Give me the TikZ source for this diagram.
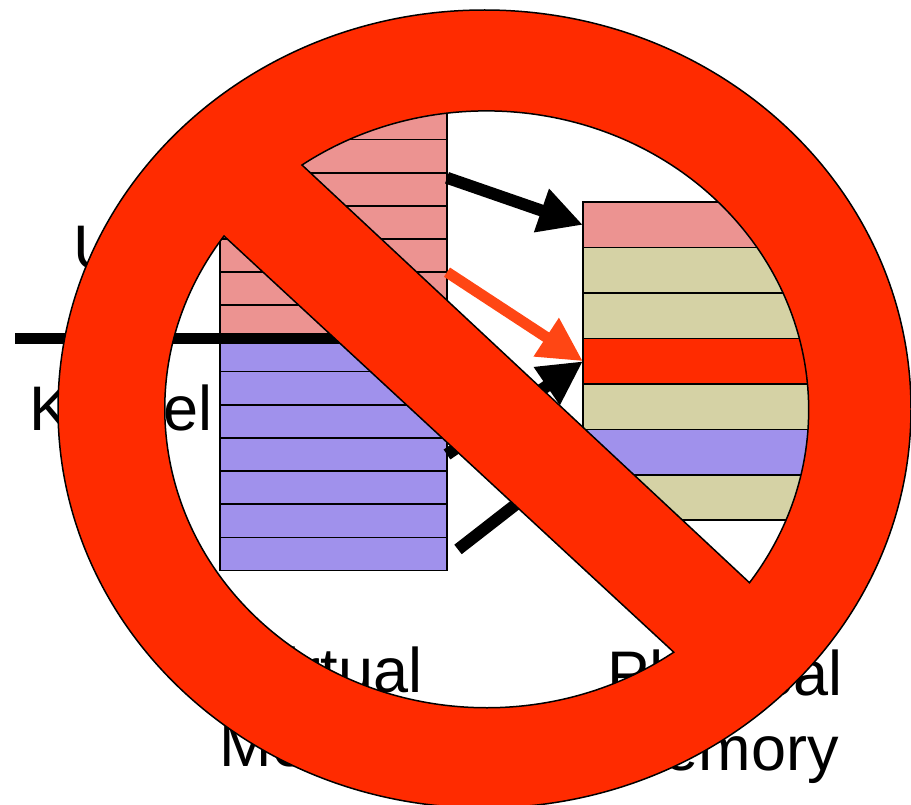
\documentclass[tikz,border=0pt]{standalone}
\usepackage{fontspec}
\setmainfont{Liberation Sans}
\usepackage{xcolor}
\usetikzlibrary{arrows.meta,positioning}
\definecolor{corrosa}{RGB}{236,147,145}
\definecolor{corazul}{RGB}{160,145,236}
\definecolor{corcaqui}{RGB}{213,210,165}
\definecolor{corproib}{RGB}{255,43,0}
\definecolor{corlaranja}{RGB}{255,70,20}
\begin{document}
\begin{tikzpicture}[
  x=1pt, y=-1pt,
  node distance=0pt,
  virt/.style={rectangle, draw=black, line width=1.7pt, outer sep=0pt, inner sep=0pt,
               minimum width=227pt, minimum height=33.15pt},
  fis/.style={rectangle, draw=black, line width=1.7pt, outer sep=0pt, inner sep=0pt,
              minimum width=226pt, minimum height=45.45pt},
  etiqueta/.style={inner sep=0pt, outer sep=0pt, align=center, font=\fontsize{63}{74.5}\selectfont},
  seta/.style={line width=12pt, -{Triangle[length=44pt,width=43pt]}, color=black},
  setav/.style={line width=11pt, -{Triangle[length=44pt,width=43pt]}, color=corlaranja}
]
  \useasboundingbox (0,0) rectangle (911,805);
  % virtual memory
  \node[virt, fill=corrosa] (v1) at (333.5,123) {};
  \node[virt, fill=corrosa, below=of v1] (v2) {};
  \node[virt, fill=corrosa, below=of v2] (v3) {};
  \node[virt, fill=corrosa, below=of v3] (v4) {};
  \node[virt, fill=corrosa, below=of v4] (v5) {};
  \node[virt, fill=corrosa, below=of v5] (v6) {};
  \node[virt, fill=corrosa, below=of v6] (v7) {};
  \node[virt, fill=corazul, below=of v7] (k1) {};
  \node[virt, fill=corazul, below=of k1] (k2) {};
  \node[virt, fill=corazul, below=of k2] (k3) {};
  \node[virt, fill=corazul, below=of k3] (k4) {};
  \node[virt, fill=corazul, below=of k4] (k5) {};
  \node[virt, fill=corazul, below=of k5] (k6) {};
  \node[virt, fill=corazul, below=of k6] (k7) {};
  % physical memory
  \node[fis, fill=corrosa] (f1) at (696,224.9) {};
  \node[fis, fill=corcaqui, below=of f1] (f2) {};
  \node[fis, fill=corcaqui, below=of f2] (f3) {};
  \node[fis, fill=corproib, below=of f3] (f4) {};
  \node[fis, fill=corcaqui, below=of f4] (f5) {};
  \node[fis, fill=corazul, below=of f5] (f6) {};
  \node[fis, fill=corcaqui, below=of f6] (f7) {};

  \node[etiqueta, anchor=base west] (user) at (73,270) {User};
  \node[etiqueta, anchor=base west] (kernel) at (30,430) {Kernel};
  \node[etiqueta, below=76pt of k7] (virtual) {Virtual\\Memory};
  \node[etiqueta, below=130pt of f7, xshift=29pt] (fisica) {Physical\\Memory};

  \coordinate (limite) at (15,338.5);
  \draw[line width=11.5pt] (limite) -- (v7.south east |- limite);

  \draw[seta] ([yshift=11.5pt]v3.east) -- (f1.west);
  \draw[seta] (k4.east) -- (f4.west);
  \draw[seta] ([xshift=11pt,yshift=4.5pt]k7.east) -- (f6.west);
  \draw[setav] (v5.south east) -- (f4.west);

  % prohibition sign
  \draw[fill=corproib, even odd rule, line width=1.5pt]
    (484.5,409) ellipse [x radius=426.5, y radius=399]
    (302,165) arc [start angle=-125, end angle=35.3, x radius=322, y radius=299] -- cycle
    (224,236) arc [start angle=-144.7, end angle=-305.5, x radius=322, y radius=299] -- cycle;
\end{tikzpicture}
\end{document}
